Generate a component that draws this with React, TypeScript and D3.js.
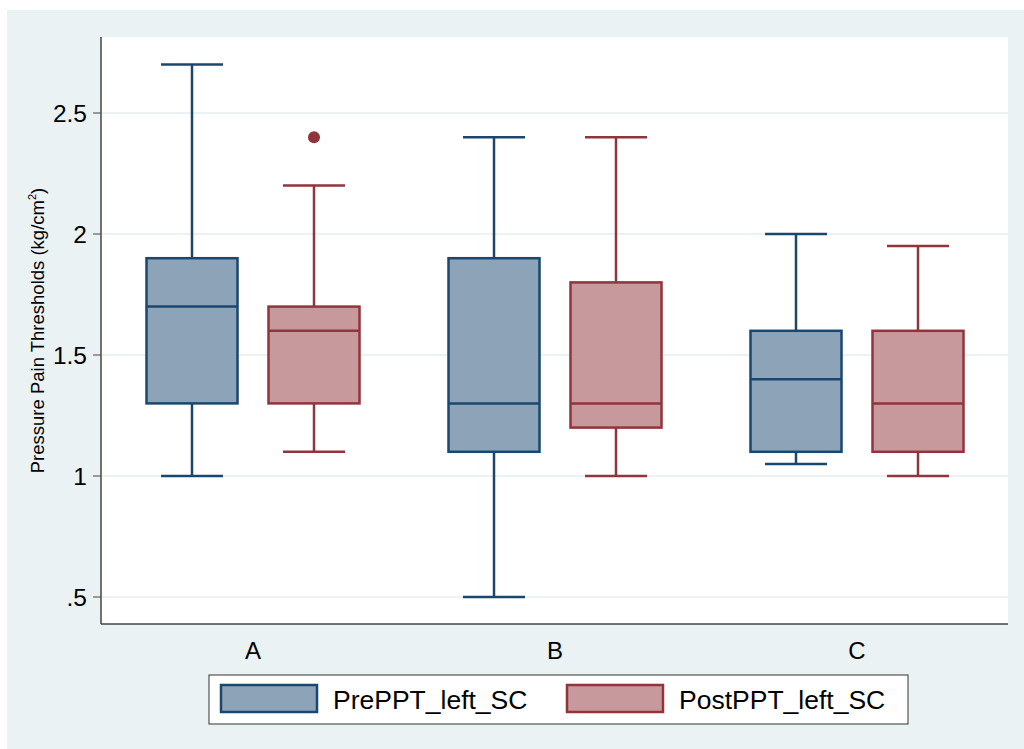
import React, { useEffect, useRef } from 'react';
import * as d3 from 'd3';

const W = 1024;
const H = 749;
const MARGIN = { top: 37, right: 16, bottom: 125, left: 101 };

const groups = ['A', 'B', 'C'];
const seriesNames = ['PrePPT_left_SC', 'PostPPT_left_SC'];
const yTicks = [0.5, 1, 1.5, 2, 2.5];
const yTickLabels = ['.5', '1', '1.5', '2', '2.5'];

// [whiskerLow, q1, median, q3, whiskerHigh] per group
const preStats = [
  [1.0, 1.3, 1.7, 1.9, 2.7],
  [0.5, 1.1, 1.3, 1.9, 2.4],
  [1.05, 1.1, 1.4, 1.6, 2.0],
];
const postStats = [
  [1.1, 1.3, 1.6, 1.7, 2.2],
  [1.0, 1.2, 1.3, 1.8, 2.4],
  [1.0, 1.1, 1.3, 1.6, 1.95],
];
const preOutliers: number[][] = [[], [], []];
const postOutliers: number[][] = [[2.4], [], []];

const strokes = ['#1a476f', '#90353b'];
const fills = ['#8da3b7', '#c8999c'];
const FONT = 'Liberation Sans, Arial, sans-serif';

export default function App() {
  const ref = useRef<SVGSVGElement>(null);

  useEffect(() => {
    const svg = d3.select(ref.current);
    svg.selectAll('*').remove();

    const plotLeft = MARGIN.left;
    const plotRight = W - MARGIN.right;
    const plotTop = MARGIN.top;
    const plotBottom = H - MARGIN.bottom;

    // background
    svg.append('rect').attr('x', 7).attr('y', 10).attr('width', W - 7).attr('height', H - 10).attr('fill', '#eaf2f3');
    svg.append('rect').attr('x', plotLeft).attr('y', plotTop)
      .attr('width', plotRight - plotLeft).attr('height', plotBottom - plotTop).attr('fill', '#ffffff');

    const y = d3.scaleLinear().domain([1, 2]).range([476, 234]);
    const x = d3.scalePoint<string>().domain(groups).range([253, 857]);
    const offset = 61;
    const boxW = 91;
    const capW = 62;

    // grid
    svg.append('g').selectAll('line').data(yTicks).join('line')
      .attr('x1', plotLeft + 1).attr('x2', plotRight)
      .attr('y1', d => y(d)).attr('y2', d => y(d))
      .attr('stroke', '#eaf2f3').attr('stroke-width', 2);

    // boxes
    const all = [preStats, postStats];
    const outs = [preOutliers, postOutliers];
    all.forEach((stats, s) => {
      const g = svg.append('g');
      stats.forEach((st, i) => {
        const cx = x(groups[i])! + (s === 0 ? -offset : offset);
        const [lo, q1, med, q3, hi] = st;
        const col = strokes[s];
        // whiskers
        g.append('line').attr('x1', cx).attr('x2', cx).attr('y1', y(hi)).attr('y2', y(q3))
          .attr('stroke', col).attr('stroke-width', 2.5);
        g.append('line').attr('x1', cx).attr('x2', cx).attr('y1', y(q1)).attr('y2', y(lo))
          .attr('stroke', col).attr('stroke-width', 2.5);
        [lo, hi].forEach(v => {
          g.append('line').attr('x1', cx - capW / 2).attr('x2', cx + capW / 2)
            .attr('y1', y(v)).attr('y2', y(v)).attr('stroke', col).attr('stroke-width', 2.5);
        });
        g.append('rect').attr('x', cx - boxW / 2).attr('y', y(q3))
          .attr('width', boxW).attr('height', y(q1) - y(q3))
          .attr('fill', fills[s]).attr('stroke', col).attr('stroke-width', 2.5);
        g.append('line').attr('x1', cx - boxW / 2).attr('x2', cx + boxW / 2)
          .attr('y1', y(med)).attr('y2', y(med)).attr('stroke', col).attr('stroke-width', 2.5);
        outs[s][i].forEach(v => {
          g.append('circle').attr('cx', cx).attr('cy', y(v)).attr('r', 6).attr('fill', col);
        });
      });
    });

    // axes lines
    svg.append('line').attr('x1', plotLeft).attr('x2', plotLeft).attr('y1', plotTop).attr('y2', plotBottom)
      .attr('stroke', '#444').attr('stroke-width', 1.5);
    svg.append('line').attr('x1', plotLeft).attr('x2', plotRight).attr('y1', plotBottom).attr('y2', plotBottom)
      .attr('stroke', '#444').attr('stroke-width', 1.5);

    // y ticks
    const yt = svg.append('g');
    yTicks.forEach((v, i) => {
      yt.append('line').attr('x1', plotLeft - 8).attr('x2', plotLeft).attr('y1', y(v)).attr('y2', y(v))
        .attr('stroke', '#444').attr('stroke-width', 1);
      yt.append('text').attr('x', plotLeft - 14).attr('y', y(v)).attr('dy', '0.36em')
        .attr('text-anchor', 'end').attr('font-family', FONT).attr('font-size', 24.5)
        .attr('fill', '#000').text(yTickLabels[i]);
    });

    // x labels
    groups.forEach(gName => {
      svg.append('text').attr('x', x(gName)!).attr('y', 659)
        .attr('text-anchor', 'middle').attr('font-family', FONT).attr('font-size', 24)
        .attr('fill', '#000').text(gName);
    });

    // y title
    const yTitle = svg.append('text')
      .attr('transform', `translate(44,${(186 + 475) / 2}) rotate(-90)`)
      .attr('text-anchor', 'middle').attr('font-family', FONT).attr('font-size', 18.5).attr('fill', '#000');
    yTitle.append('tspan').text('Pressure Pain Thresholds (kg/cm');
    yTitle.append('tspan').attr('font-size', 11).attr('dy', -8).text('2');
    yTitle.append('tspan').attr('dy', 8).text(')');

    // legend
    const lg = svg.append('g');
    lg.append('rect').attr('x', 209).attr('y', 675).attr('width', 699).attr('height', 49)
      .attr('fill', '#fff').attr('stroke', '#333').attr('stroke-width', 1);
    const swX = [221, 567];
    seriesNames.forEach((name, s) => {
      lg.append('rect').attr('x', swX[s]).attr('y', 685).attr('width', 96).attr('height', 27)
        .attr('fill', fills[s]).attr('stroke', strokes[s]).attr('stroke-width', 2.5);
      lg.append('text').attr('x', swX[s] + 112).attr('y', 699).attr('dy', '0.36em')
        .attr('font-family', FONT).attr('font-size', 26.5).attr('fill', '#000').text(name);
    });
  }, []);

  return (
    <svg ref={ref} width={W} height={H} style={{ position: 'absolute', left: 0, top: 0, display: 'block' }} />
  );
}
